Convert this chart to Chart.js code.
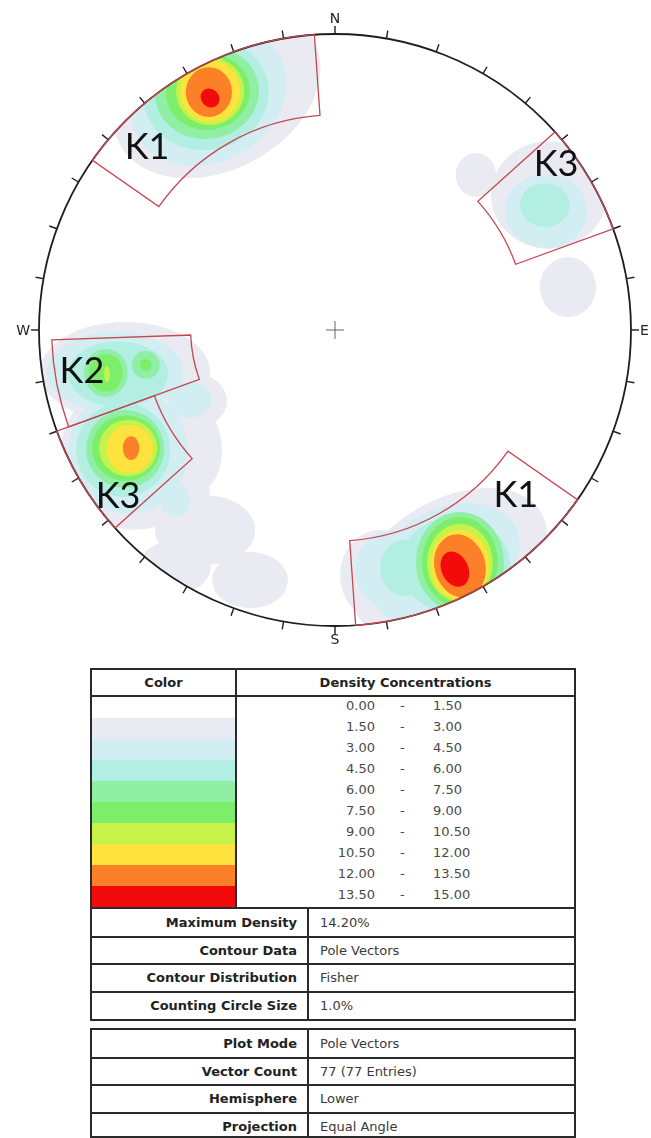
<!DOCTYPE html>
<html><head><meta charset="utf-8">
<script src="https://cdn.jsdelivr.net/npm/chart.js@4.4.0/dist/chart.umd.min.js"></script>
<style>
html,body{margin:0;padding:0;background:#fff;}
body{width:651px;height:1138px;position:relative;overflow:hidden;font-family:"DejaVu Sans",Verdana,sans-serif;}
#plot{position:absolute;left:0;top:0;}
.tbl{position:absolute;left:90px;width:486px;border:2px solid #2a2a2a;box-sizing:border-box;background:#fff;}
.tbl div{position:absolute;white-space:nowrap;}
.hdr{font-weight:bold;font-size:13px;color:#222;text-align:center;line-height:25px;top:0;height:25px;}
.num{font-size:13px;color:#4a4a4a;line-height:21px;}
.lab{font-weight:bold;font-size:13px;color:#222;text-align:right;}
.val{font-size:13px;color:#3a3a3a;}
</style></head><body>
<canvas id="plot" width="651" height="660"></canvas>
<div id="legend" class="tbl"></div>
<div id="props1" class="tbl"></div>
<div id="props2" class="tbl"></div>
<script>
// ---------------- data ----------------
const densityLow  = ['0.00','1.50','3.00','4.50','6.00','7.50','9.00','10.50','12.00','13.50'];
const densityHigh = ['1.50','3.00','4.50','6.00','7.50','9.00','10.50','12.00','13.50','15.00'];
const densityColors = ['#ffffff','#e9eaf2','#d2eef2','#b2efe2','#90efa4','#7cee6a','#c6f24a','#fee33e','#fb8028','#f30b0b'];

// windows: trend range (deg) and plunge range (deg) of the pole vectors
const windowNames      = ['K1','K3','K2','K3','K1'];
const windowTrendFrom  = [305, 48, 250, 228, 125];
const windowTrendTo    = [356, 70, 268, 250, 176];
const windowPlungeMin  = [0, 0, 2.5, 0, 0];
const windowPlungeMax  = [18, 24, 38, 24, 19];

// density contour patches: [level, x, y, rx, ry, rotDeg] in projection units (circle radius = 1)
const clusterK1North = [
  [1,-0.400,0.804,0.372,0.264,28],[2,-0.429,0.791,0.277,0.223,28],[3,-0.436,0.797,0.213,0.189,10],
  [4,-0.432,0.801,0.176,0.155,10],[5,-0.429,0.804,0.142,0.128,10],[6,-0.422,0.807,0.115,0.115,0],
  [7,-0.422,0.807,0.101,0.105,0],[8,-0.426,0.804,0.078,0.084,0],[9,-0.422,0.784,0.030,0.034,45]
];
const clusterK3East = [
  [1,0.723,0.456,0.196,0.182,0],[2,0.713,0.402,0.139,0.125,0],[3,0.709,0.422,0.084,0.074,0],
  [1,0.476,0.524,0.068,0.074,0],[1,0.787,0.145,0.095,0.101,0]
];
const clusterK2 = [
  [1,-0.709,-0.142,0.287,0.169,0],[2,-0.743,-0.142,0.230,0.135,0],[3,-0.733,-0.149,0.169,0.111,0],
  [4,-0.774,-0.145,0.074,0.081,0],[4,-0.639,-0.118,0.047,0.047,0],[5,-0.774,-0.145,0.057,0.064,0],
  [5,-0.639,-0.118,0.020,0.020,0],[6,-0.770,-0.149,0.010,0.027,0]
];
const clusterK3West = [
  [1,-0.676,-0.422,0.253,0.253,0],[2,-0.699,-0.412,0.203,0.209,0],[3,-0.716,-0.405,0.159,0.159,0],
  [4,-0.709,-0.402,0.132,0.132,0],[5,-0.706,-0.399,0.115,0.111,0],[6,-0.699,-0.399,0.098,0.095,0],
  [7,-0.693,-0.402,0.078,0.081,0],[8,-0.689,-0.399,0.028,0.040,0]
];
const clusterSouthWest = [
  [2,-0.490,-0.236,0.074,0.061,0],[1,-0.483,-0.240,0.118,0.095,0],[1,-0.456,-0.405,0.074,0.135,0],
  [1,-0.524,-0.541,0.101,0.152,0],[2,-0.541,-0.574,0.051,0.057,0],[1,-0.439,-0.676,0.169,0.118,0],
  [1,-0.287,-0.845,0.128,0.095,0],[1,-0.540,-0.800,0.120,0.090,0]
];
const clusterK1South = [
  [1,0.389,-0.794,0.355,0.220,30],[1,0.152,-0.828,0.135,0.152,0],[2,0.372,-0.794,0.270,0.186,30],
  [2,0.203,-0.811,0.135,0.135,0],[3,0.405,-0.794,0.186,0.162,0],[3,0.236,-0.804,0.084,0.095,0],
  [4,0.422,-0.784,0.149,0.169,0],[5,0.422,-0.784,0.128,0.152,0],[6,0.422,-0.787,0.111,0.132,0],
  [7,0.422,-0.794,0.098,0.118,0],[8,0.422,-0.797,0.086,0.108,15],[9,0.405,-0.808,0.045,0.062,25]
];
const directionLabels = ['N','E','S','W'];

const propLabels1 = ['Maximum Density','Contour Data','Contour Distribution','Counting Circle Size'];
const propValues1 = ['14.20%','Pole Vectors','Fisher','1.0%'];
const propLabels2 = ['Plot Mode','Vector Count','Hemisphere','Projection'];
const propValues2 = ['Pole Vectors','77 (77 Entries)','Lower','Equal Angle'];

// ---------------- layout ----------------
const CX = 335, CY = 330, RPX = 296, CW = 651, CH = 660;
const labelAnchor = [[-0.635,0.622],[0.747,0.564],[-0.855,-0.135],[-0.733,-0.557],[0.611,-0.554]];

const toRad = d => d * Math.PI / 180;
const projR = p => Math.tan(toRad((90 - p) / 2));   // equal-angle projection
const allBlobs = [].concat(clusterK1North, clusterK3East, clusterK2, clusterK3West, clusterSouthWest, clusterK1South);

const stereoPlugin = {
  id: 'stereo',
  beforeDatasetsDraw(chart) {
    const ctx = chart.ctx, x = chart.scales.x, y = chart.scales.y;
    const ox = x.getPixelForValue(0), oy = y.getPixelForValue(0);
    const kx = x.getPixelForValue(1) - ox, ky = oy - y.getPixelForValue(1);
    // contours
    ctx.save();
    ctx.beginPath(); ctx.arc(ox, oy, kx, 0, Math.PI * 2); ctx.clip();
    for (let lv = 1; lv < densityColors.length; lv++) {
      ctx.fillStyle = densityColors[lv];
      allBlobs.forEach(b => {
        if (b[0] !== lv) return;
        ctx.beginPath();
        ctx.ellipse(x.getPixelForValue(b[1]), y.getPixelForValue(b[2]), b[3] * kx, b[4] * ky, -toRad(b[5]), 0, Math.PI * 2);
        ctx.fill();
      });
    }
    ctx.restore();
    // primitive circle
    ctx.save();
    ctx.strokeStyle = '#1e1e1e'; ctx.lineWidth = 1.8;
    ctx.beginPath(); ctx.arc(ox, oy, kx, 0, Math.PI * 2); ctx.stroke();
    ctx.lineWidth = 1.4;
    for (let t = 0; t < 360; t += 10) {
      const a = toRad(t), s = Math.sin(a), c = -Math.cos(a);
      ctx.beginPath();
      ctx.moveTo(ox + s * kx, oy + c * kx);
      ctx.lineTo(ox + s * (kx + 8), oy + c * (kx + 8));
      ctx.stroke();
    }
    ctx.fillStyle = '#222'; ctx.font = '14px "DejaVu Sans"';
    ctx.textBaseline = 'middle';
    ctx.textAlign = 'center'; ctx.fillText(directionLabels[0], ox, oy - kx - 15);
    ctx.textAlign = 'left'; ctx.fillText(directionLabels[1], ox + kx + 9, oy + 1);
    ctx.textAlign = 'center'; ctx.fillText(directionLabels[2], ox, oy + kx + 14);
    ctx.textAlign = 'right'; ctx.fillText(directionLabels[3], ox - kx - 9, oy + 1);
    // windows
    ctx.strokeStyle = '#c64750'; ctx.lineWidth = 1.3;
    windowNames.forEach((n, i) => {
      const a1 = toRad(windowTrendFrom[i] - 90), a2 = toRad(windowTrendTo[i] - 90);
      const rO = projR(windowPlungeMin[i]) * kx, rI = projR(windowPlungeMax[i]) * kx;
      ctx.beginPath();
      ctx.arc(ox, oy, rO, a1, a2, false);
      ctx.arc(ox, oy, rI, a2, a1, true);
      ctx.closePath();
      ctx.stroke();
    });
    ctx.fillStyle = '#111'; ctx.font = '36px Lato'; ctx.textAlign = 'center'; ctx.textBaseline = 'alphabetic';
    windowNames.forEach((n, i) => {
      ctx.fillText(n, x.getPixelForValue(labelAnchor[i][0]), y.getPixelForValue(labelAnchor[i][1]) + 13);
    });
    ctx.restore();
  }
};

new Chart(document.getElementById('plot'), {
  type: 'scatter',
  data: { datasets: [{
    data: [{x: 0, y: 0}],
    pointStyle: 'cross', pointRadius: 9, borderColor: '#666', borderWidth: 1, backgroundColor: '#666'
  }]},
  options: {
    responsive: false, animation: false, devicePixelRatio: 1,
    layout: { padding: 0, autoPadding: false },
    plugins: { legend: { display: false }, tooltip: { enabled: false } },
    scales: {
      x: { type: 'linear', display: false, min: -CX / RPX, max: (CW - CX) / RPX },
      y: { type: 'linear', display: false, min: -(CH - CY) / RPX, max: CY / RPX }
    }
  },
  plugins: [stereoPlugin]
});

// ---------------- tables ----------------
(function buildLegend() {
  const el = document.getElementById('legend');
  el.style.top = '668px'; el.style.height = '241px';
  let h = '';
  h += '<div class="hdr" style="left:0;width:143px">Color</div>';
  h += '<div class="hdr" style="left:145px;width:337px">Density Concentrations</div>';
  h += '<div style="left:0;top:25px;width:482px;height:2px;background:#2a2a2a"></div>';
  h += '<div style="left:143px;top:0;width:2px;height:237px;background:#2a2a2a"></div>';
  densityLow.forEach((lo, i) => {
    const top = 27 + i * 21;
    h += `<div style="left:0;top:${top}px;width:143px;height:21px;background:${densityColors[i]}"></div>`;
    h += `<div class="num" style="right:199px;top:${top - 2}px;text-align:right">${lo}</div>`;
    h += `<div class="num" style="left:308px;top:${top - 2}px">-</div>`;
    h += `<div class="num" style="left:341px;top:${top - 2}px">${densityHigh[i]}</div>`;
  });
  el.innerHTML = h;
})();
function buildProps(id, top, height, labels, values) {
  const el = document.getElementById(id);
  el.style.top = top + 'px'; el.style.height = height + 'px';
  const rh = 27.5;
  let h = '<div style="left:215px;top:0;width:2px;height:' + (height - 4) + 'px;background:#2a2a2a"></div>';
  labels.forEach((lab, i) => {
    const t = i * rh;
    if (i > 0) h += `<div style="left:0;top:${t - 1}px;width:482px;height:2px;background:#2a2a2a"></div>`;
    h += `<div class="lab" style="right:277px;top:${t}px;line-height:${rh}px">${lab}</div>`;
    h += `<div class="val" style="left:228px;top:${t}px;line-height:${rh}px">${values[i]}</div>`;
  });
  el.innerHTML = h;
}
buildProps('props1', 907, 114, propLabels1, propValues1);
buildProps('props2', 1028, 110, propLabels2, propValues2);
</script>
</body></html>
